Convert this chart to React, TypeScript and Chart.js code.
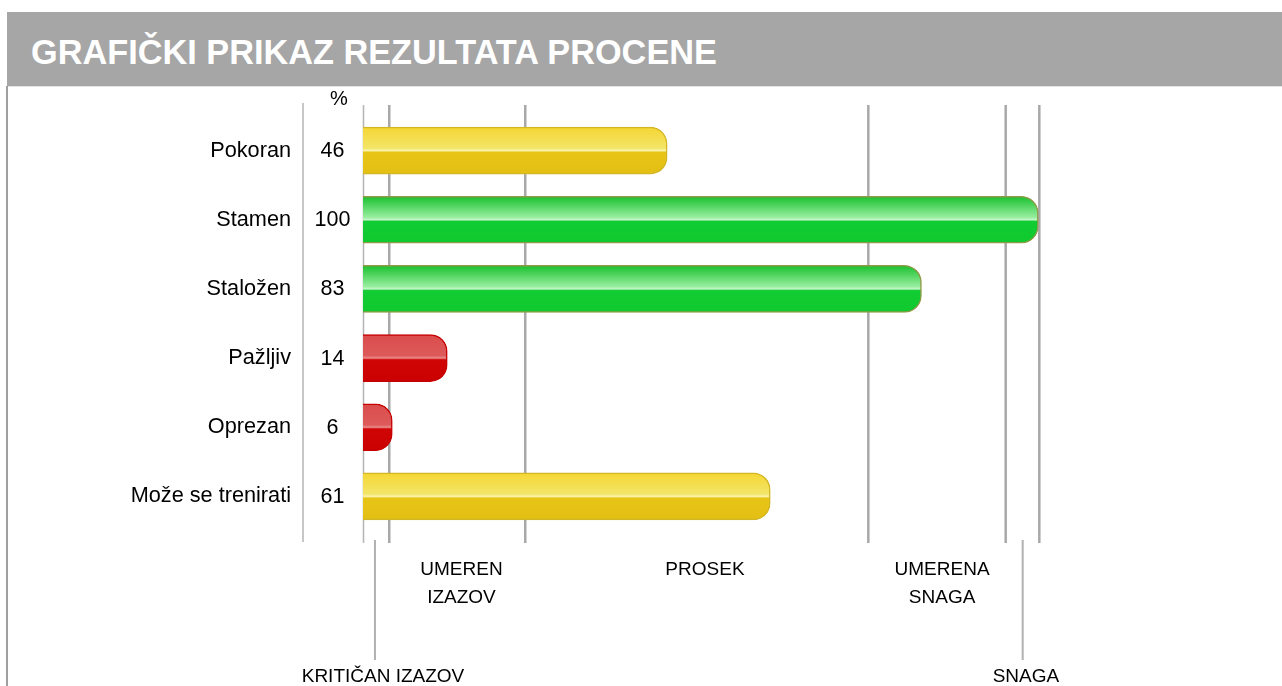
import React, { useEffect, useRef } from "react";
import { Chart, registerables } from "chart.js";

Chart.register(...registerables);

const TITLE = "GRAFIČKI PRIKAZ REZULTATA PROCENE";
const categories = ["Pokoran", "Stamen", "Staložen", "Pažljiv", "Oprezan", "Može se trenirati"];
const scores = [46, 100, 83, 14, 6, 61];
const xMin = 1.74;
const xMax = 100.25;
const zoneLines = [5.56, 25.35, 75.27, 95.26, 100.15];
const zoneLabels = [["UMEREN", "IZAZOV"], ["PROSEK"], ["UMERENA", "SNAGA"]];
const zoneLabelCenters = [16.07, 51.5, 86.0];
const edgeLabels = ["KRITIČAN IZAZOV", "SNAGA"];
const edgeLineValues = [3.48, 97.73];
const edgeLabelCenters = [4.65, 98.2];
const lowLimit = 25;
const highLimit = 75;

const FONT = "'Liberation Sans', Arial, sans-serif";

type Tone = "red" | "yellow" | "green";
const toneOf = (v: number): Tone => (v < lowLimit ? "red" : v > highLimit ? "green" : "yellow");

const STOPS: Record<Tone, [number, string][]> = {
  yellow: [
    [0, "#f5d633"],
    [0.45, "#f3e568"],
    [0.5, "#fbf4ac"],
    [0.535, "#e7c517"],
    [1, "#e3bf13"],
  ],
  green: [
    [0, "#18c02d"],
    [0.45, "#98ee9f"],
    [0.5, "#c8f7cb"],
    [0.535, "#12cc33"],
    [1, "#0fc92f"],
  ],
  red: [
    [0, "#da4c4c"],
    [0.45, "#de5a5a"],
    [0.5, "#ea8e8e"],
    [0.535, "#d00505"],
    [1, "#cb0000"],
  ],
};
const BORDER: Record<Tone, string> = { yellow: "#d2b626", green: "#8f9a48", red: "#c40000" };
const SOLID: Record<Tone, string> = { yellow: "#e7c517", green: "#12cc33", red: "#d00505" };

const BAR_T = 47;

const decorPlugin = {
  id: "decor",
  beforeDatasetsDraw(chart: any) {
    const { ctx, chartArea } = chart;
    const x = chart.scales.x;
    ctx.save();
    ctx.strokeStyle = "#b4b4b4";
    ctx.lineWidth = 1.5;
    ctx.beginPath();
    ctx.moveTo(chartArea.left - 60, chartArea.top - 13);
    ctx.lineTo(chartArea.left - 60, chartArea.bottom + 11);
    ctx.stroke();
    ctx.beginPath();
    ctx.moveTo(chartArea.left + 0.5, chartArea.top - 11);
    ctx.lineTo(chartArea.left + 0.5, chartArea.bottom + 12);
    ctx.stroke();
    ctx.strokeStyle = "#a8a8a8";
    ctx.lineWidth = 2.5;
    zoneLines.forEach((v) => {
      const px = x.getPixelForValue(v);
      ctx.beginPath();
      ctx.moveTo(px, chartArea.top - 11);
      ctx.lineTo(px, chartArea.bottom + 12);
      ctx.stroke();
    });
    ctx.strokeStyle = "#b0b0b0";
    ctx.lineWidth = 2;
    edgeLineValues.forEach((v) => {
      const px = x.getPixelForValue(v);
      ctx.beginPath();
      ctx.moveTo(px, chartArea.bottom + 9);
      ctx.lineTo(px, chartArea.bottom + 129);
      ctx.stroke();
    });
    ctx.restore();
  },
  afterDraw(chart: any) {
    const { ctx, chartArea } = chart;
    const x = chart.scales.x;
    const y = chart.scales.y;
    ctx.save();
    ctx.fillStyle = "#000";
    ctx.textAlign = "center";
    ctx.textBaseline = "middle";
    ctx.font = `20px ${FONT}`;
    ctx.fillText("%", chartArea.left - 24, chartArea.top - 17);
    ctx.font = `21.5px ${FONT}`;
    scores.forEach((v, i) => {
      ctx.fillText(String(v), chartArea.left - 30.5, y.getPixelForValue(i) + 0.5);
    });
    ctx.font = `19px ${FONT}`;
    zoneLabels.forEach((lines, i) => {
      const px = x.getPixelForValue(zoneLabelCenters[i]);
      lines.forEach((t, j) => {
        ctx.fillText(t, px, chartArea.bottom + 39 + j * 28);
      });
    });
    edgeLabels.forEach((t, i) => {
      ctx.fillText(t, x.getPixelForValue(edgeLabelCenters[i]), chartArea.bottom + 146);
    });
    ctx.restore();
  },
};

export default function App() {
  const ref = useRef<HTMLCanvasElement | null>(null);

  useEffect(() => {
    if (!ref.current) return;
    const gradientFor = (c: any) => {
      const i = c.dataIndex;
      if (i === undefined) return SOLID.yellow;
      const tone = toneOf(scores[i]);
      const chart = c.chart;
      const yScale = chart.scales && chart.scales.y;
      if (!chart.chartArea || !yScale) return SOLID[tone];
      const cy = yScale.getPixelForValue(i);
      const g = chart.ctx.createLinearGradient(0, cy - BAR_T / 2, 0, cy + BAR_T / 2);
      STOPS[tone].forEach(([o, col]) => g.addColorStop(o, col));
      return g;
    };
    const chart = new Chart(ref.current, {
      type: "bar",
      data: {
        labels: categories,
        datasets: [
          {
            data: scores,
            backgroundColor: gradientFor as any,
            borderColor: ((c: any) =>
              c.dataIndex === undefined ? BORDER.yellow : BORDER[toneOf(scores[c.dataIndex])]) as any,
            borderWidth: 1.5,
            borderSkipped: "start",
            borderRadius: { topLeft: 0, bottomLeft: 0, topRight: 17, bottomRight: 17 },
            barThickness: BAR_T,
          },
        ],
      },
      options: {
        indexAxis: "y",
        animation: false,
        responsive: true,
        maintainAspectRatio: false,
        layout: { padding: { left: 0, top: 116, right: 242, bottom: 155 } },
        plugins: { legend: { display: false }, tooltip: { enabled: false } },
        scales: {
          x: { display: false, min: xMin, max: xMax },
          y: {
            display: true,
            grid: { display: false, drawTicks: false },
            border: { display: false },
            ticks: { color: "#000", padding: 72, font: { family: FONT, size: 21.7 } },
            afterFit: (s: any) => {
              s.width = 363;
            },
          },
        },
      },
      plugins: [decorPlugin],
    });
    return () => chart.destroy();
  }, []);

  return (
    <>
      <div style={{ position: "absolute", left: 0, top: 0, width: 1282, height: 686 }}>
        <canvas ref={ref} />
      </div>
      <div
        style={{
          position: "absolute",
          left: 7,
          top: 12,
          width: 1275,
          height: 74,
          background: "#a6a6a6",
        }}
      />
      <div
        style={{
          position: "absolute",
          left: 7,
          top: 86,
          width: 1275,
          height: 1,
          background: "#e4e4e4",
        }}
      />
      <div
        style={{
          position: "absolute",
          left: 6,
          top: 86,
          width: 1.5,
          height: 600,
          background: "#a0a0a0",
        }}
      />
      <div
        style={{
          position: "absolute",
          left: 31,
          top: 35,
          fontFamily: FONT,
          fontWeight: "bold",
          fontSize: 34.3,
          lineHeight: "34px",
          color: "#fff",
          whiteSpace: "nowrap",
        }}
      >
        {TITLE}
      </div>
    </>
  );
}
